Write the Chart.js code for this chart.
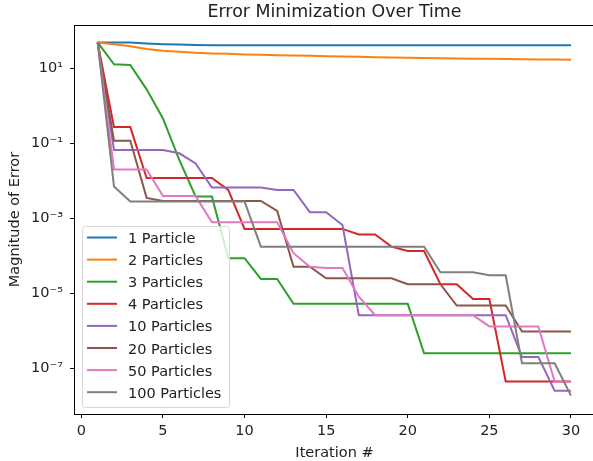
<!DOCTYPE html>
<html>
<head>
<meta charset="utf-8">
<script src="https://cdn.jsdelivr.net/npm/chart.js@4.4.1/dist/chart.umd.min.js"></script>
<style>
  html, body { margin: 0; padding: 0; background: #fff; }
  canvas { display: block; }
</style>
</head>
<body>
<canvas id="chart" width="593" height="461"></canvas>
<script>
const iterations = Array.from({length: 30}, (_, i) => i + 1);

const seriesLabels = ['1 Particle', '2 Particles', '3 Particles', '4 Particles',
    '10 Particles', '20 Particles', '50 Particles', '100 Particles'];
const seriesColors = ['#1f77b4', '#ff7f0e', '#2ca02c', '#d62728',
    '#9467bd', '#8c564b', '#e377c2', '#7f7f7f'];

// values (log scale)
const p1 = [49, 49, 49, 46, 44, 43, 42, 41.5, 41.2, 41, 41, 41, 41, 41, 41,
    41, 41, 41, 41, 41, 41, 41, 41, 41, 41, 41, 41, 41, 41, 41];
const p2 = [49, 43.6, 38.6, 32.7, 29.5, 27.7, 26, 25, 24.3, 23.5, 23, 22.4, 22, 21.5, 21,
    20.6, 20.2, 19.8, 19.5, 19.2, 18.9, 18.6, 18.3, 18.1, 17.9, 17.7, 17.5, 17.3, 17.2, 17.0];
const p3 = [49, 12.8, 12.3, 2.75, 0.46, 0.036, 3.8e-3, 3.8e-3, 8.6e-5, 8.6e-5, 2.4e-5, 2.4e-5,
    5.2e-6, 5.2e-6, 5.2e-6, 5.2e-6, 5.2e-6, 5.2e-6, 5.2e-6, 5.2e-6,
    2.5e-7, 2.5e-7, 2.5e-7, 2.5e-7, 2.5e-7, 2.5e-7, 2.5e-7, 2.5e-7, 2.5e-7, 2.5e-7];
const p4 = [49, 0.27, 0.27, 0.0119, 0.0119, 0.0119, 0.0119, 0.0119, 5.7e-3, 5.2e-4,
    5.2e-4, 5.2e-4, 5.2e-4, 5.2e-4, 5.2e-4, 5.2e-4, 3.7e-4, 3.7e-4, 1.75e-4, 1.34e-4,
    1.34e-4, 1.74e-5, 1.74e-5, 7e-6, 7e-6, 4.4e-8, 4.4e-8, 4.4e-8, 4.4e-8, 4.4e-8];
const p10 = [49, 0.066, 0.066, 0.066, 0.066, 0.054, 0.029, 6.6e-3, 6.6e-3, 6.6e-3,
    6.6e-3, 5.7e-3, 5.7e-3, 1.45e-3, 1.45e-3, 6.6e-4, 2.6e-6, 2.6e-6, 2.6e-6, 2.6e-6,
    2.6e-6, 2.6e-6, 2.6e-6, 2.6e-6, 2.6e-6, 2.6e-6, 2.0e-7, 2.0e-7, 2.5e-8, 2.5e-8];
const p20 = [49, 0.117, 0.117, 3.5e-3, 2.9e-3, 2.9e-3, 2.9e-3, 2.9e-3, 2.9e-3, 2.9e-3,
    2.9e-3, 1.57e-3, 5.1e-5, 5.1e-5, 2.5e-5, 2.5e-5, 2.5e-5, 2.5e-5, 2.5e-5, 1.74e-5,
    1.74e-5, 1.74e-5, 4.7e-6, 4.7e-6, 4.7e-6, 4.7e-6, 9.5e-7, 9.5e-7, 9.5e-7, 9.5e-7];
const p50 = [49, 0.020, 0.020, 0.020, 3.9e-3, 3.9e-3, 3.9e-3, 7.8e-4, 7.8e-4, 7.8e-4,
    7.8e-4, 7.8e-4, 1.17e-4, 5.1e-5, 4.7e-5, 4.7e-5, 8.1e-6, 2.6e-6, 2.6e-6, 2.6e-6,
    2.6e-6, 2.6e-6, 2.6e-6, 2.6e-6, 1.3e-6, 1.3e-6, 1.3e-6, 1.3e-6, 4.4e-8, 4.4e-8];
const p100 = [49, 7.0e-3, 2.8e-3, 2.8e-3, 2.8e-3, 2.8e-3, 2.8e-3, 2.8e-3, 2.8e-3, 2.8e-3,
    1.75e-4, 1.75e-4, 1.75e-4, 1.75e-4, 1.75e-4, 1.75e-4, 1.75e-4, 1.75e-4, 1.75e-4, 1.75e-4,
    1.75e-4, 3.6e-5, 3.6e-5, 3.6e-5, 3.0e-5, 3.0e-5, 1.35e-7, 1.35e-7, 1.35e-7, 1.85e-8];
const seriesValues = [p1, p2, p3, p4, p10, p20, p50, p100];

const xTicks = [0, 5, 10, 15, 20, 25, 30];
const yTickValues = [1e1, 1e-1, 1e-3, 1e-5, 1e-7];
const yTickLabels = ['10¹', '10⁻¹', '10⁻³', '10⁻⁵', '10⁻⁷'];

const titleText = 'Error Minimization Over Time';
const xTitle = 'Iteration #';
const yTitle = 'Magnitude of Error';

const FONT = "'DejaVu Sans', sans-serif";
const TEXT = '#222';

// title, axis titles, top spine and legend drawn by hand
const decorations = {
    id: 'decorations',
    afterDraw(chart) {
        const ctx = chart.ctx;
        const area = chart.chartArea;
        ctx.save();

        ctx.strokeStyle = '#000';
        ctx.lineWidth = 1;
        ctx.beginPath();
        ctx.moveTo(area.left, area.top + 0.5);
        ctx.lineTo(area.right, area.top + 0.5);
        ctx.stroke();

        ctx.fillStyle = TEXT;
        ctx.textAlign = 'center';
        ctx.textBaseline = 'alphabetic';
        ctx.font = `17.4px ${FONT}`;
        ctx.fillText(titleText, (area.left + 595) / 2, 17);

        ctx.font = `14.5px ${FONT}`;
        ctx.fillText(xTitle, (area.left + 595) / 2, 457);

        ctx.save();
        ctx.translate(19, (area.top + area.bottom) / 2);
        ctx.rotate(-Math.PI / 2);
        ctx.fillText(yTitle, 0, 0);
        ctx.restore();

        // legend box
        const bx = 82.5, by = 226.5, bw = 147, bh = 181, r = 3;
        ctx.beginPath();
        ctx.moveTo(bx + r, by);
        ctx.arcTo(bx + bw, by, bx + bw, by + bh, r);
        ctx.arcTo(bx + bw, by + bh, bx, by + bh, r);
        ctx.arcTo(bx, by + bh, bx, by, r);
        ctx.arcTo(bx, by, bx + bw, by, r);
        ctx.closePath();
        ctx.fillStyle = 'rgba(255,255,255,0.8)';
        ctx.fill();
        ctx.strokeStyle = '#d6d6d6';
        ctx.stroke();

        ctx.textAlign = 'left';
        ctx.lineWidth = 2;
        seriesLabels.forEach((label, i) => {
            const y = 237.5 + i * 22.1;
            ctx.strokeStyle = seriesColors[i];
            ctx.beginPath();
            ctx.moveTo(87, y);
            ctx.lineTo(117, y);
            ctx.stroke();
            ctx.fillStyle = TEXT;
            ctx.fillText(label, 128, y + 5.5);
        });

        ctx.restore();
    }
};

const datasets = seriesLabels.map((label, i) => ({
    label: label,
    data: iterations.map((it, k) => ({x: it, y: seriesValues[i][k]})),
    borderColor: seriesColors[i],
    backgroundColor: seriesColors[i],
    borderWidth: 2,
    pointRadius: 0,
    tension: 0,
    fill: false,
    order: seriesLabels.length - 1 - i
}));

new Chart(document.getElementById('chart'), {
    type: 'line',
    data: { datasets: datasets },
    options: {
        responsive: false,
        animation: false,
        devicePixelRatio: 1,
        layout: { padding: { left: 0, top: 25, right: 0, bottom: 0 } },
        plugins: {
            legend: { display: false },
            title: { display: false },
            tooltip: { enabled: false }
        },
        scales: {
            x: {
                type: 'linear',
                min: -0.45,
                max: 31.35,
                afterBuildTicks: s => { s.ticks = xTicks.map(v => ({value: v})); },
                afterFit: s => { s.height = 47; },
                grid: { drawOnChartArea: false, drawTicks: true, tickLength: 4, tickColor: '#000' },
                border: { display: true, color: '#000', width: 1 },
                ticks: { font: { family: FONT, size: 14.5 }, color: TEXT, padding: 5, maxRotation: 0 }
            },
            y: {
                type: 'logarithmic',
                min: 6e-9,
                max: 143,
                afterBuildTicks: s => { s.ticks = yTickValues.map(v => ({value: v})); },
                afterFit: s => { s.width = 74; },
                grid: { drawOnChartArea: false, drawTicks: true, tickLength: 4, tickColor: '#000' },
                border: { display: true, color: '#000', width: 1 },
                ticks: {
                    font: { family: FONT, size: 14.5 },
                    color: TEXT,
                    padding: 7,
                    callback: (value, index) => yTickLabels[index]
                }
            }
        }
    },
    plugins: [decorations]
});
</script>
</body>
</html>
